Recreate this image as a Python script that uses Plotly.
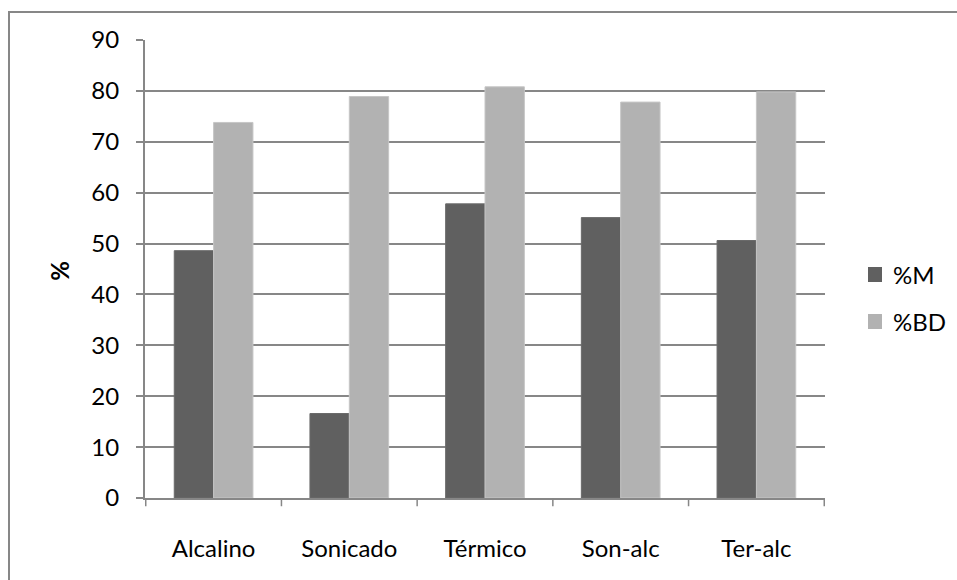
import plotly.graph_objects as go

categories = ["Alcalino", "Sonicado", "Térmico", "Son-alc", "Ter-alc"]
series_names = ["%M", "%BD"]
pct_m = [48.6, 16.6, 57.8, 55.1, 50.6]
pct_bd = [73.8, 78.9, 80.8, 77.8, 79.8]
y_ticks = [0, 10, 20, 30, 40, 50, 60, 70, 80, 90]

FONT = "Lato, 'Open Sans', sans-serif"
GRID = "#878787"
COLORS = ["#606060", "#b2b2b2"]
EDGES = ["#6a6a6a", "#c6c6c6"]

fig = go.Figure()
for name, vals, col, edge in zip(series_names, [pct_m, pct_bd], COLORS, EDGES):
    fig.add_trace(go.Bar(
        x=categories, y=vals, name=name,
        marker=dict(color=col, line=dict(color=edge, width=1)),
        showlegend=False,
    ))

fig.update_layout(
    width=957, height=580,
    margin=dict(l=145, r=132, t=40, b=82),
    paper_bgcolor="white", plot_bgcolor="white",
    barmode="group", bargap=0.42, bargroupgap=0,
    font=dict(family=FONT, size=24, color="#000000"),
    xaxis=dict(
        showline=True, linecolor=GRID, linewidth=2,
        ticks="outside", ticklen=0, tickfont=dict(size=24),
        ticklabelstandoff=28, showgrid=False,
    ),
    yaxis=dict(
        range=[0, 90], tickvals=y_ticks,
        showline=True, linecolor=GRID, linewidth=2,
        ticks="outside", ticklen=7, tickcolor=GRID, tickwidth=1.5,
        showgrid=True, gridcolor=GRID, gridwidth=1.5,
        zeroline=False, tickfont=dict(size=24), ticklabelstandoff=12,
    ),
)

# y axis title
fig.add_annotation(
    text="<b>%</b>", xref="paper", yref="paper", x=-0.125, y=0.496,
    textangle=-90, showarrow=False, font=dict(size=24, family=FONT),
    xanchor="center", yanchor="middle",
)

# tick marks between category groups on the x axis
for i in range(len(categories) + 1):
    fig.add_shape(
        type="line", xref="x", yref="paper",
        x0=i - 0.5, x1=i - 0.5, y0=0, y1=-0.018,
        line=dict(color=GRID, width=1.5),
    )

# legend: colour swatch plus series name
legend_rows = [(0.5044, 0.4716), (0.4017, 0.3690)]
for name, col, (top, bot) in zip(series_names, COLORS, legend_rows):
    fig.add_shape(
        type="rect", xref="paper", yref="paper",
        x0=1.0632, x1=1.0838, y0=bot, y1=top,
        fillcolor=col, line=dict(width=0),
    )
    fig.add_annotation(
        text=name, xref="paper", yref="paper", x=1.0971, y=(top + bot) / 2,
        xanchor="left", yanchor="middle", showarrow=False,
        font=dict(size=24, family=FONT),
    )

# outer chart frame
fig.add_shape(
    type="rect", xref="paper", yref="paper",
    x0=-0.2, x1=1.3, y0=-0.3, y1=1.061,
    line=dict(color=GRID, width=2), fillcolor="rgba(0,0,0,0)", layer="below",
)

fig.write_html("out.html")
